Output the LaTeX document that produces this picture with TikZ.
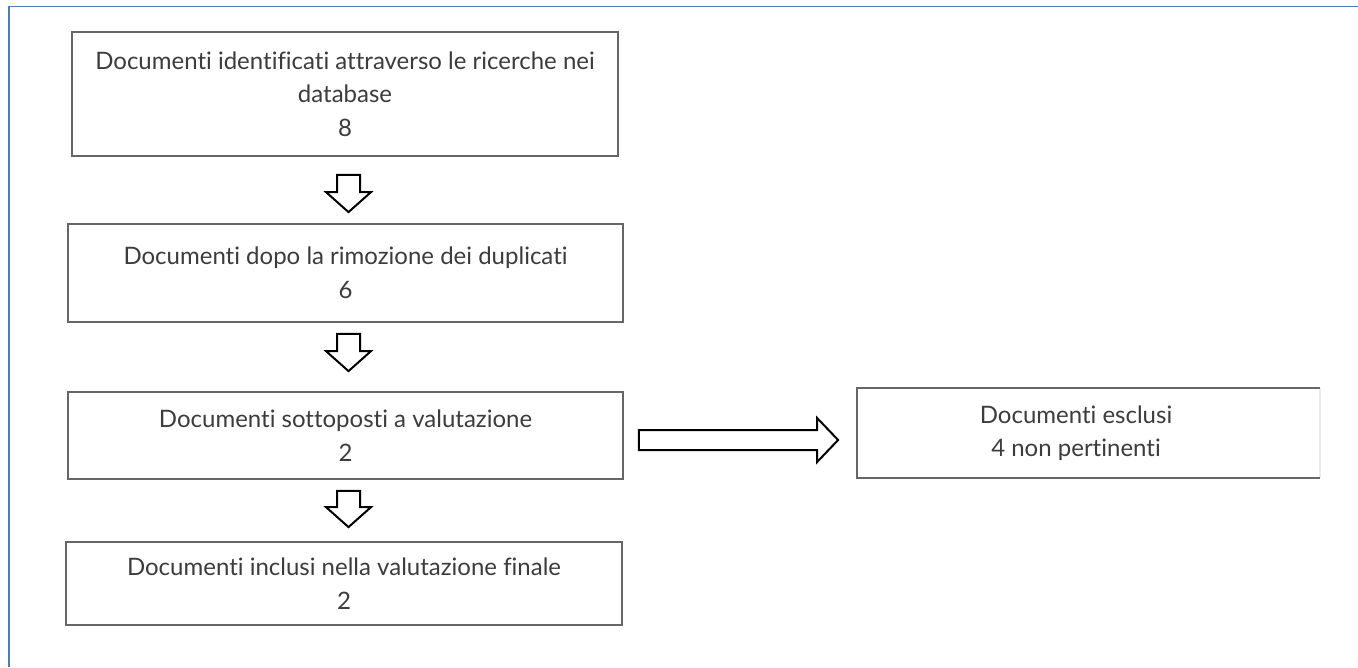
\documentclass[tikz,border=0pt]{standalone}
\usepackage{fontspec}
\setmainfont{Lato}[Ligatures={NoCommon,NoRequired,NoContextual}]
\usetikzlibrary{calc}
\definecolor{frameblue}{HTML}{4A7CC4}
\definecolor{boxgray}{HTML}{666666}
\definecolor{txtgray}{HTML}{3C3C3C}
\tikzset{
  box/.style={draw=boxgray, line width=1.8pt, inner sep=0pt, align=center, text=txtgray},
  fat/.style={draw=black, fill=white, line width=2pt, line join=miter},
  downfat/.style={fat, to path={let \p1=(\tikztostart), \p2=(\tikztotarget) in
      (\x1-11.5pt,\y1) -- (\x1+11.5pt,\y1) -- (\x1+11.5pt,\y2+20pt) -- (\x1+22.5pt,\y2+20pt)
      -- (\x1,\y2) -- (\x1-22.5pt,\y2+20pt) -- (\x1-11.5pt,\y2+20pt) -- cycle}},
  rightfat/.style={fat, to path={let \p1=(\tikztostart), \p2=(\tikztotarget) in
      (\x1,\y1-10pt) -- (\x2-21pt,\y1-10pt) -- (\x2-21pt,\y1-22pt) -- (\x2,\y1)
      -- (\x2-21pt,\y1+22pt) -- (\x2-21pt,\y1+10pt) -- (\x1,\y1+10pt) -- cycle}}
}
\begin{document}
\begin{tikzpicture}[x=1pt, y=-1pt, font=\fontsize{24}{33.5}\selectfont, line cap=butt]
	\useasboundingbox (0,0) rectangle (1358,667);
	\fill[white] (0,0) rectangle (1358,667);
	\draw[frameblue, line width=1.6pt] (1358,6.5) -- (9,6.5) -- (9,667);
	% caselle
	\node[box, minimum width=546pt, minimum height=124pt] (ident) at (345,94) {Documenti identificati attraverso le ricerche nei\\database\\8};
	\node[box, minimum width=555pt, minimum height=98pt] (dedup) at (345.5,273) {Documenti dopo la rimozione dei duplicati\\6};
	\node[box, minimum width=555pt, minimum height=87pt] (eval) at (345.5,435.5) {Documenti sottoposti a valutazione\\2};
	\node[box, minimum width=556pt, minimum height=83pt] (final) at (344,583.5) {Documenti inclusi nella valutazione finale\\2};
	\node[box, draw=none, minimum width=436pt, minimum height=88pt] (excl) at (1076,433) {Documenti esclusi\\4 non pertinenti};
	\draw[black!8, line width=1.8pt] ([xshift=25pt]excl.north east) -- ([xshift=25pt]excl.south east);
	\draw[boxgray, line width=1.8pt] ([xshift=25pt]excl.north east) -- (excl.north west) -- (excl.south west) -- ([xshift=25pt]excl.south east);
	% frecce
	\draw[downfat] ([xshift=3.5pt,yshift=-18pt]ident.south) to ([xshift=3pt,yshift=11pt]dedup.north);
	\draw[downfat] ([xshift=3pt,yshift=-11pt]dedup.south) to ([xshift=3pt,yshift=20pt]eval.north);
	\draw[downfat] ([xshift=3pt,yshift=-11pt]eval.south) to ([xshift=4.5pt,yshift=14pt]final.north);
	\draw[rightfat] ([xshift=15pt,yshift=-4.5pt]eval.east) to ([xshift=-19pt,yshift=-7pt]excl.west);
\end{tikzpicture}
\end{document}
